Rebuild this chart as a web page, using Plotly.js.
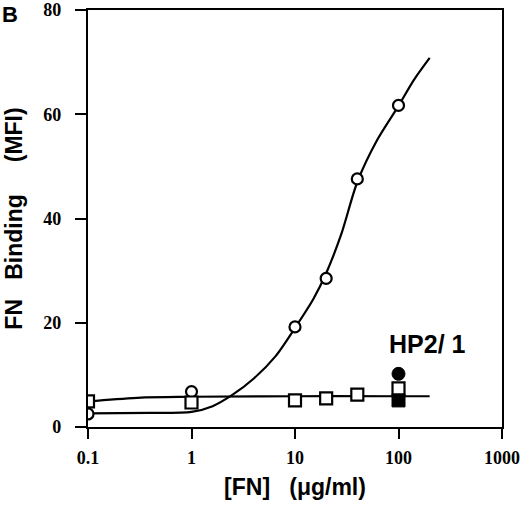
<!DOCTYPE html>
<html>
<head>
<meta charset="utf-8">
<script src="https://cdn.plot.ly/plotly-3.0.1.min.js"></script>
<style>html,body{margin:0;padding:0;background:#fff;}#chart{width:520px;height:505px;}</style>
</head>
<body>
<div id="chart"></div>
<script>
// Measured points
var conc = [0.1, 1, 10, 20, 40, 100];
var fnCircles = [2.5, 6.8, 19.2, 28.5, 47.6, 61.7];
var fnSquares = [4.9, 4.7, 5.1, 5.5, 6.2, 7.4];
// HP2/1 points at 100 ug/ml
var hpX = [100];
var hpCircle = [10.2];
var hpSquare = [5.1];
// Fitted curves
var fitCircleX = [0.1, 0.4, 1, 1.6, 2.5, 4, 6.5, 10, 15, 20, 28, 40, 62, 100, 140, 200];
var fitCircleY = [2.6, 2.7, 2.9, 4.0, 6.2, 9.3, 13.6, 19.0, 24.5, 29.5, 37.0, 47.0, 55.0, 61.6, 66.5, 70.8];
var fitSquareX = [0.1, 0.3, 1, 10, 100, 200];
var fitSquareY = [4.9, 5.6, 5.8, 5.9, 5.9, 5.9];
// Tick labels
var xTicks = [0.1, 1, 10, 100, 1000];
var xTickText = ['0.1', '1', '10', '100', '1000'];
var yTicks = [0, 20, 40, 60, 80];

var tickFont = {family: 'Liberation Serif, Times New Roman, serif', size: 18, color: '#000', weight: 'bold'};
var titleFont = {family: 'Liberation Sans, Arial, sans-serif', size: 23, color: '#000', weight: 'bold'};

var traces = [
  {x: fitCircleX, y: fitCircleY, mode: 'lines', line: {color: '#000', width: 2.2, shape: 'spline', smoothing: 0.8}, hoverinfo: 'skip'},
  {x: fitSquareX, y: fitSquareY, mode: 'lines', line: {color: '#000', width: 2.2, shape: 'spline', smoothing: 1}, hoverinfo: 'skip'},
  {x: conc, y: fnCircles, mode: 'markers', marker: {symbol: 'circle', size: 11, color: '#fff', line: {color: '#000', width: 2.2}}},
  {x: hpX, y: hpCircle, mode: 'markers', marker: {symbol: 'circle', size: 13, color: '#000', line: {color: '#000', width: 1}}},
  {x: hpX, y: hpSquare, mode: 'markers', marker: {symbol: 'square', size: 13, color: '#000', line: {color: '#000', width: 1}}},
  {x: conc, y: fnSquares, mode: 'markers', marker: {symbol: 'square', size: 12, color: '#fff', line: {color: '#000', width: 2.2}}}
];

var layout = {
  width: 520, height: 505,
  margin: {l: 88, r: 18, t: 10, b: 78},
  paper_bgcolor: '#fff', plot_bgcolor: '#fff',
  showlegend: false,
  xaxis: {
    type: 'log', range: [-1, 3],
    tickvals: xTicks, ticktext: xTickText,
    ticks: 'outside', ticklen: 10, tickwidth: 2, tickcolor: '#000',
    showline: true, linewidth: 2.2, linecolor: '#000', mirror: true,
    showgrid: false, zeroline: false,
    tickfont: tickFont, ticklabelstandoff: 3, ticklabeloverflow: 'allow',
    title: {text: '[FN]\u00a0\u00a0\u00a0(\u03bcg/ml)', font: titleFont, standoff: 12}
  },
  yaxis: {
    range: [0, 80],
    tickvals: yTicks,
    ticks: 'outside', ticklen: 11, tickwidth: 2, tickcolor: '#000',
    showline: true, linewidth: 2.2, linecolor: '#000', mirror: true,
    showgrid: false, zeroline: false,
    tickfont: tickFont, ticklabelstandoff: 10,
    title: {text: 'FN\u00a0\u00a0\u00a0Binding\u00a0\u00a0\u00a0\u00a0\u00a0(MFI)', font: titleFont, standoff: 14}
  },
  annotations: [
    {text: 'HP2/ 1', x: Math.log10(100), y: 12.8, xref: 'x', yref: 'y', xanchor: 'left', yanchor: 'bottom', xshift: -12, showarrow: false,
     font: {family: 'Liberation Sans, Arial, sans-serif', size: 25, color: '#000', weight: 'bold'}},
    {text: 'B', x: -88/414, y: 1 + 10/416, xref: 'paper', yref: 'paper', xanchor: 'left', yanchor: 'top', showarrow: false,
     font: {family: 'Liberation Sans, Arial, sans-serif', size: 22, color: '#000', weight: 'bold'}}
  ]
};

Plotly.newPlot('chart', traces, layout, {staticPlot: true});
</script>
</body>
</html>
